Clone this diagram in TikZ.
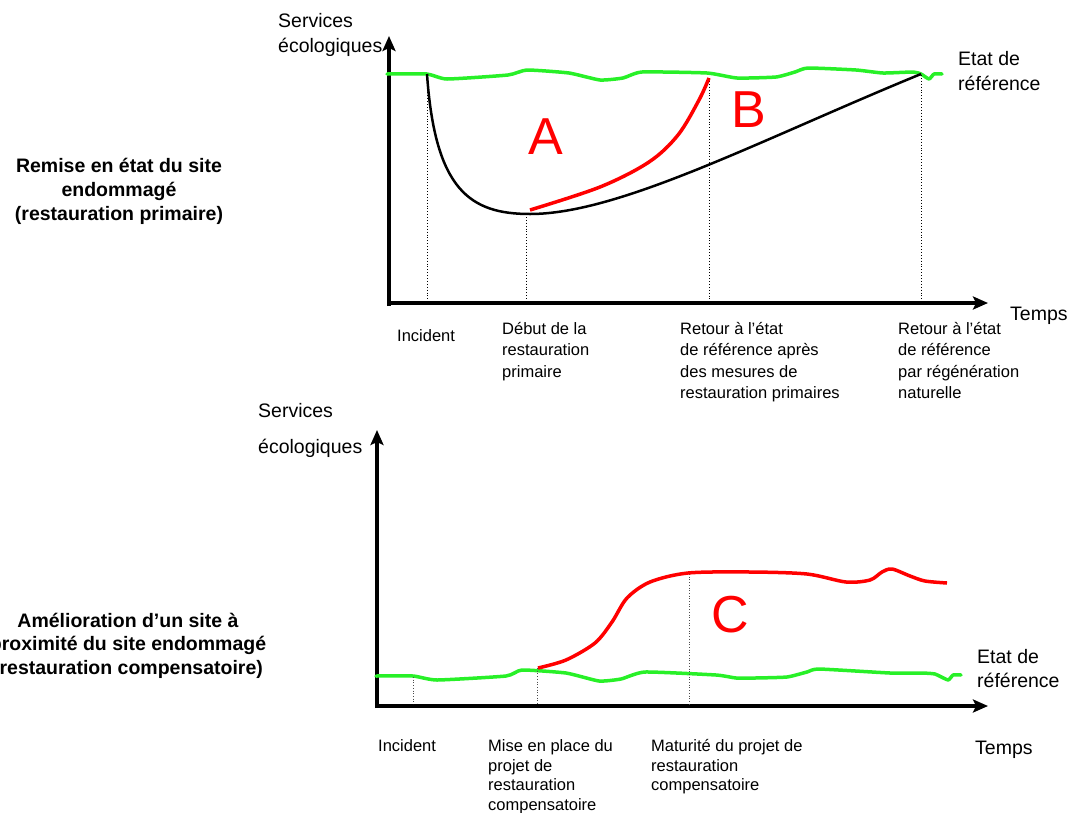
\documentclass[tikz,border=0pt]{standalone}
\usepackage{fontspec}
\setmainfont{Liberation Sans}
\usetikzlibrary{arrows.meta}
\definecolor{grn}{RGB}{40,240,40}
\definecolor{rd}{RGB}{255,0,0}
\begin{document}
\begin{tikzpicture}[x=1pt,y=-1pt,
  axis/.style={line width=4pt,-{Stealth[length=15pt,width=13pt,inset=3pt]}},
  refline/.style={grn,line width=3.5pt,line join=round,line cap=round},
  redline/.style={rd,line width=3.5pt,line join=round},
  blackcurve/.style={black,line width=2.5pt},
  guide/.style={black,line width=0.9pt,dotted},
  guidegray/.style={black!70,line width=0.7pt,dotted},
  big/.style={inner sep=0pt,anchor=base west,font=\fontsize{19.5}{23}\selectfont},
  small/.style={inner sep=0pt,anchor=base west,font=\fontsize{16.5}{20}\selectfont},
  title/.style={inner sep=0pt,anchor=base,font=\fontsize{19.5}{23}\selectfont\bfseries},
  letter/.style={inner sep=0pt,anchor=base,text=rd,font=\fontsize{52}{60}\selectfont}]
\useasboundingbox (0,0) rectangle (1074,812);

% ---------------- top graph ----------------
\draw[line width=4pt] (389,306) -- (389,300);
\draw[axis] (389,305) -- (389,36);
\draw[axis] (387,303) -- (988,303);

\draw[refline] plot[smooth,tension=0.3] coordinates {(387,74) (427,74) (447,79) (508,75) (527,70) (569,73) (600,80) (623,78) (642,72) (707,73) (737,78) (776,77) (795,72) (808,68) (856,70) (883,73) (913,72) (921,74) (929,79) (934,74) (942,74)};

\draw[guide] (427,75) -- (427,301);
\draw[guide] (526,214) -- (526,301);
\draw[guide] (709,78) -- (709,301);
\draw[guide] (921,75) -- (921,301);

\draw[blackcurve] (427,74) .. controls (435,190) and (470,214) .. (530,214)
  .. controls (620,214) and (760,140) .. (921,74);

\draw[redline] plot[smooth,tension=0.55] coordinates {(530,210) (600,187) (649,162) (678,135) (699,100) (709,78)};

\node[letter] (lA) at (546,154) {A};
\node[letter] (lB) at (749,127) {B};

\node[big] (s1a) at (278,27) {Services};
\node[big] (s1b) at (278,52) {écologiques};
\node[big] (e1a) at (958,65) {Etat de};
\node[big] (e1b) at (958,90) {référence};
\node[big] (t1) at (1010,320) {Temps};

\node[small] (i1) at (397,341) {Incident};
\node[small] (d1) at (502,334) {Début de la};
\node[small] (d2) at (502,355.5) {restauration};
\node[small] (d3) at (502,377) {primaire};
\node[small] (r1) at (680,334) {Retour à l’état};
\node[small] (r2) at (680,355.5) {de référence après};
\node[small] (r3) at (680,377) {des mesures de};
\node[small] (r4) at (680,398.5) {restauration primaires};
\node[small] (n1) at (898,334) {Retour à l’état};
\node[small] (n2) at (898,355.5) {de référence};
\node[small] (n3) at (898,377) {par régénération};
\node[small] (n4) at (898,398.5) {naturelle};

\node[title] (T1a) at (119,172) {Remise en état du site};
\node[title] (T1b) at (119,196) {endommagé};
\node[title] (T1c) at (119,220) {(restauration primaire)};

% ---------------- bottom graph ----------------
\draw[axis] (377,708) -- (377,430);
\draw[axis] (375,706) -- (988,706);

\draw[refline] plot[smooth,tension=0.3] coordinates {(376,676) (413,676) (437,680) (506,676) (522,670) (566,673) (599,681) (621,679) (645,672) (716,675) (736,678) (755,678) (787,677) (807,672) (819,669) (890,673) (921,673) (935,674) (948,680) (953,675) (961,675)};

\draw[guidegray] (413,677) -- (413,704);
\draw[guidegray] (537,668) -- (537,704);
\draw[guidegray] (689,574) -- (689,704);

\draw[redline] plot[smooth,tension=0.5] coordinates {(538,668) (566,660) (595,643) (612,622) (627,598) (650,582) (688,573) (750,572) (807,574) (846,582) (870,580) (882,572) (892,569) (910,576) (925,581) (947,583)};

\node[letter] (lC) at (730,632) {C};

\node[big] (s2a) at (258,417) {Services};
\node[big] (s2b) at (258,453) {écologiques};
\node[big] (e2a) at (977,663) {Etat de};
\node[big] (e2b) at (977,687) {référence};
\node[big] (t2) at (975,754) {Temps};

\node[small] (i2) at (378,751) {Incident};
\node[small] (m1) at (488,751) {Mise en place du};
\node[small] (m2) at (488,771) {projet de};
\node[small] (m3) at (488,790.5) {restauration};
\node[small] (m4) at (488,810) {compensatoire};
\node[small] (p1) at (651,751) {Maturité du projet de};
\node[small] (p2) at (651,771) {restauration};
\node[small] (p3) at (651,790.5) {compensatoire};

\node[title] (T2a) at (128,627) {Amélioration d’un site à};
\node[title] (T2b) at (128,650) {proximité du site endommagé};
\node[title] (T2c) at (128,674) {(restauration compensatoire)};
\end{tikzpicture}
\end{document}
